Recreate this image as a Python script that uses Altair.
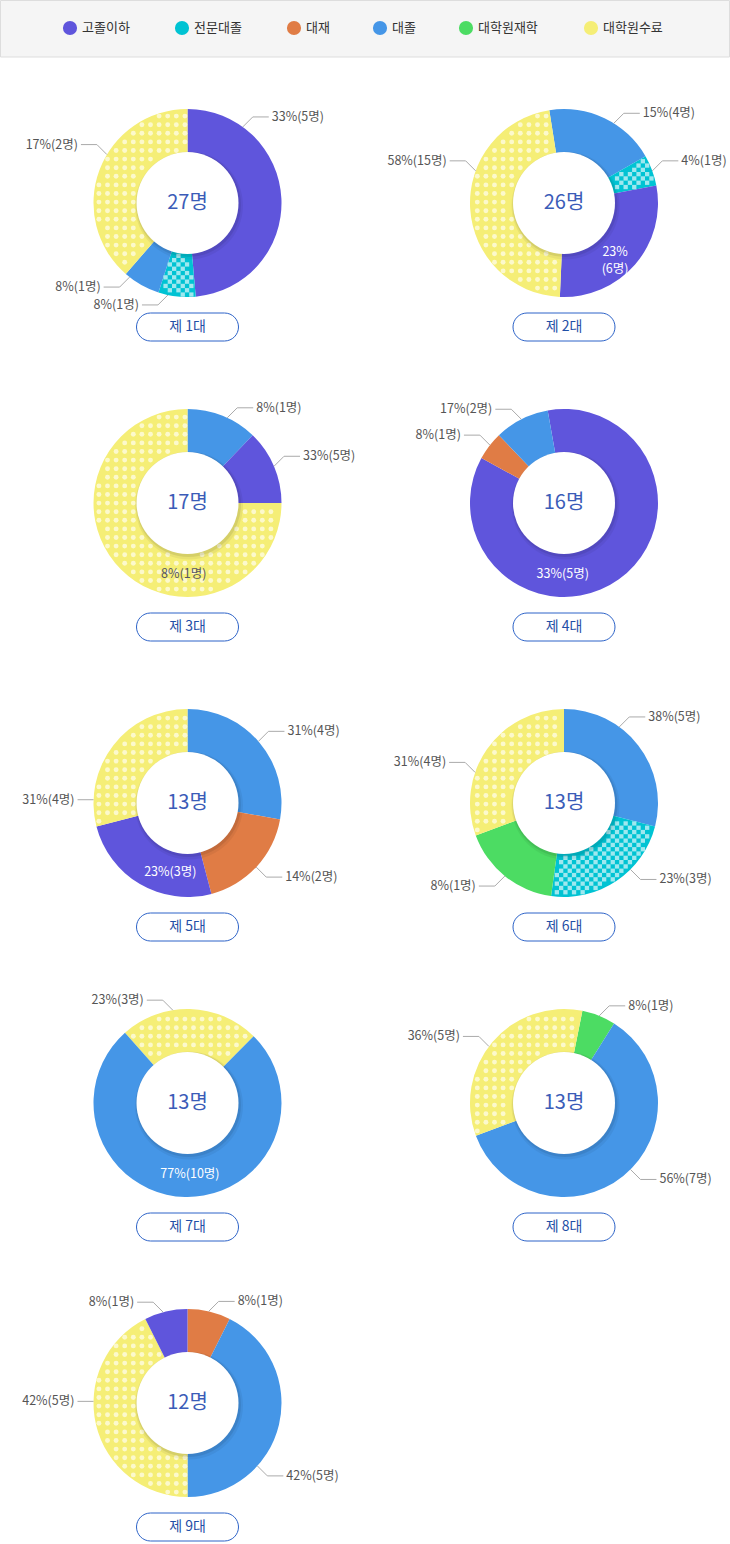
import math
import altair as alt
import pandas as pd

# ---------------- data ----------------
categories = ["고졸이하", "전문대졸", "대재", "대졸", "대학원재학", "대학원수료"]
cat_colors = ["#5f55dc", "#00c3d3", "#e07c45", "#4596e7", "#4cdc63", "#f5ee76"]

terms = ["제 1대", "제 2대", "제 3대", "제 4대", "제 5대", "제 6대", "제 7대", "제 8대", "제 9대"]
totals = ["27명", "26명", "17명", "16명", "13명", "13명", "13명", "13명", "12명"]

# rotation of the first slice (degrees, clockwise from 12 o'clock)
start_deg = [0, -9, 0, -10, 0, 0, -41.7, 11.3, 0]

# slices clockwise: category index and share of the ring (%)
slice_cat = [
    [0, 1, 3, 5],
    [3, 1, 0, 5],
    [3, 0, 5],
    [0, 2, 3],
    [3, 2, 0, 5],
    [3, 1, 4, 5],
    [5, 3],
    [4, 3, 5],
    [2, 3, 5, 0],
]
slice_share = [
    [48.6, 6.4, 6.4, 38.6],
    [19.2, 5.3, 28.7, 46.8],
    [12.2, 12.8, 75.0],
    [85.7, 4.9, 9.4],
    [27.8, 18.1, 25.1, 29.0],
    [29.0, 23.2, 17.2, 30.6],
    [24.0, 76.0],
    [5.8, 60.4, 33.8],
    [7.4, 42.6, 42.6, 7.4],
]
slice_label = [
    ["33%(5명)", "8%(1명)", "8%(1명)", "17%(2명)"],
    ["15%(4명)", "4%(1명)", "23%\n(6명)", "58%(15명)"],
    ["8%(1명)", "33%(5명)", "8%(1명)"],
    ["33%(5명)", "8%(1명)", "17%(2명)"],
    ["31%(4명)", "14%(2명)", "23%(3명)", "31%(4명)"],
    ["38%(5명)", "23%(3명)", "8%(1명)", "31%(4명)"],
    ["23%(3명)", "77%(10명)"],
    ["8%(1명)", "56%(7명)", "36%(5명)"],
    ["8%(1명)", "42%(5명)", "42%(5명)", "8%(1명)"],
]
# direction of each label (degrees, clockwise from 12 o'clock)
label_deg = [
    [36, 192, 218, 301],
    [32, 70, 134, 290],
    [25, 67, 183],
    [181, 308, 333],
    [49, 133, 194, 272],
    [36, 135, 219, 289],
    [351, 178],
    [22, 135, 307],
    [13, 132, 271, 345],
]
# 1 = label drawn inside the ring
label_inside = [
    [0, 0, 0, 0],
    [0, 0, 1, 0],
    [0, 0, 1],
    [1, 0, 0],
    [0, 0, 1, 0],
    [0, 0, 0, 0],
    [0, 1],
    [0, 0, 0],
    [0, 0, 0, 0],
]

# ---------------- layout / styling ----------------
W, H = 730, 1544
FONT = "Noto Sans CJK KR"
COL_X = [187.5, 564]
ROW0, ROW_STEP = 203, 300
R_OUT, R_IN, R_LAB = 94, 51, 71
BTN_DY, BTN_W, BTN_H = 124, 102, 28
LEG_H, LEG_Y = 57, 28
DOT_STEP, CHECK_STEP = 8.6, 4.3

xs = alt.Scale(domain=[0, W], range=[0, W])
ys = alt.Scale(domain=[0, H], range=[0, H])
th = alt.Scale(domain=[0, 360], range=[0, 2 * math.pi])


def X(f):
    return alt.X(f, type="quantitative", scale=xs, axis=None)


def Y(f):
    return alt.Y(f, type="quantitative", scale=ys, axis=None)


def in_slice(px, py, cx, cy, a0, span, margin):
    dx, dy = px - cx, py - cy
    r = math.hypot(dx, dy)
    if r < R_IN + margin or r > R_OUT - margin:
        return False
    m = math.degrees(margin / r)
    ang = math.degrees(math.atan2(dx, -dy)) % 360
    rel = (ang - a0) % 360
    return m <= rel <= span - m


arc_rows, disc_rows, center_rows, btn_rows = [], [], [], []
rule_rows, out_rows, in_rows = [], [], []
dot_rows, check_rows = [], []
for i in range(9):
    cx = COL_X[i % 2]
    cy = ROW0 + ROW_STEP * (i // 2)
    a = start_deg[i]
    for c, s, txt, ld, ins in zip(slice_cat[i], slice_share[i], slice_label[i],
                                  label_deg[i], label_inside[i]):
        span = s * 3.6
        arc_rows.append(dict(cx=cx, cy=cy, a0=a, a1=a + span, cat=categories[c]))
        # surface texture of the slice (dots / checker), as in the reference
        if c in (5, 1):
            step = DOT_STEP if c == 5 else CHECK_STEP
            margin = 2.4 if c == 5 else 2.0
            gx0 = math.floor((cx - R_OUT) / step)
            gx1 = math.ceil((cx + R_OUT) / step)
            gy0 = math.floor((cy - R_OUT) / step)
            gy1 = math.ceil((cy + R_OUT) / step)
            for gx in range(gx0, gx1 + 1):
                for gy in range(gy0, gy1 + 1):
                    if c == 1 and (gx + gy) % 2:
                        continue
                    px, py = gx * step + step / 2, gy * step + step / 2
                    if in_slice(px, py, cx, cy, a % 360, span, margin):
                        (dot_rows if c == 5 else check_rows).append(dict(x=px, y=py))
        a += span
        r = math.radians(ld)
        sn, cs = math.sin(r), math.cos(r)
        if ins:
            in_rows.append(dict(x=cx + R_LAB * sn, y=cy - R_LAB * cs, t=txt,
                                tc="#555566" if c == 5 else "#ffffff"))
        else:
            ax, ay = cx + R_OUT * sn, cy - R_OUT * cs
            sx = 1 if sn > 0 else -1
            if abs(cs) < 0.2:
                ex, ey = ax, ay
            else:
                ex, ey = ax + 10 * sx, ay + (-10 if cs > 0 else 10)
                rule_rows.append(dict(x=ax, y=ay, x2=ex, y2=ey))
            hx = ex + 16 * sx
            rule_rows.append(dict(x=ex, y=ey, x2=hx, y2=ey))
            out_rows.append(dict(x=hx + 3 * sx, y=ey, t=txt, side="R" if sx > 0 else "L"))
    disc_rows.append(dict(cx=cx, cy=cy, a0=0, a1=360))
    center_rows.append(dict(x=cx, y=cy, t=totals[i]))
    btn_rows.append(dict(x=cx - BTN_W / 2, x2=cx + BTN_W / 2,
                         y=cy + BTN_DY - BTN_H / 2, y2=cy + BTN_DY + BTN_H / 2,
                         xc=cx, yc=cy + BTN_DY, t=terms[i]))

arcs = pd.DataFrame(arc_rows)
discs = pd.DataFrame(disc_rows)
shadow1 = discs.assign(cx=discs.cx + 1.5, cy=discs.cy + 2.5)
shadow2 = discs.assign(cx=discs.cx + 1, cy=discs.cy + 1.5)
centers = pd.DataFrame(center_rows)
btns = pd.DataFrame(btn_rows)
rules = pd.DataFrame(rule_rows)
outs = pd.DataFrame(out_rows)
ins_df = pd.DataFrame(in_rows)
dots = pd.DataFrame(dot_rows)
checks = pd.DataFrame(check_rows)

# legend positions computed from text length
leg_rows = []
txt_w = [13 * len(c) for c in categories]
item_w = [20 + w for w in txt_w]
gap = 40
total_w = sum(item_w) + gap * (len(categories) - 1)
pos = W / 2 - total_w / 2
for c, iw in zip(categories, item_w):
    leg_rows.append(dict(mx=pos + 8, tx=pos + 20, y=LEG_Y, cat=c))
    pos += iw + gap
legend = pd.DataFrame(leg_rows)
legbox = pd.DataFrame([dict(x=0.5, x2=W - 0.5, y=0.5, y2=LEG_H)])

color = alt.Color("cat:N", scale=alt.Scale(domain=categories, range=cat_colors), legend=None)


def disc_layer(df, radius, fill, opacity):
    return alt.Chart(df).mark_arc(outerRadius=radius, innerRadius=0, fill=fill,
                                  opacity=opacity).encode(
        x=X("cx"), y=Y("cy"),
        theta=alt.Theta("a0:Q", scale=th, stack=None), theta2="a1:Q")


layers = [
    alt.Chart(legbox).mark_rect(fill="#f5f5f5", stroke="#dddddd", strokeWidth=1).encode(
        x=X("x"), x2="x2", y=Y("y"), y2="y2"),
    alt.Chart(legend).mark_point(filled=True, shape="circle", size=200, opacity=1).encode(
        x=X("mx"), y=Y("y"), color=color),
    alt.Chart(legend).mark_text(align="left", baseline="middle", font=FONT, fontSize=13,
                                color="#333333").encode(x=X("tx"), y=Y("y"), text="cat:N"),
    alt.Chart(arcs).mark_arc(outerRadius=R_OUT, innerRadius=40).encode(
        x=X("cx"), y=Y("cy"),
        theta=alt.Theta("a0:Q", scale=th, stack=None), theta2="a1:Q", color=color),
    alt.Chart(dots).mark_point(filled=True, shape="circle", size=24, opacity=1,
                               color="#fcf9cc").encode(x=X("x"), y=Y("y")),
    alt.Chart(checks).mark_point(filled=True, shape="square", size=18.5, opacity=1,
                                 color="#9fe8ef").encode(x=X("x"), y=Y("y")),
    disc_layer(shadow1, R_IN + 3, "#000000", 0.05),
    disc_layer(shadow2, R_IN + 1.5, "#000000", 0.08),
    disc_layer(discs, R_IN, "#ffffff", 1),
    alt.Chart(centers).mark_text(align="center", baseline="middle", font=FONT, fontSize=20,
                                 color="#3b5cb8").encode(x=X("x"), y=Y("y"), text="t:N"),
    alt.Chart(btns).mark_rect(cornerRadius=14, fill="#ffffff", stroke="#2d63c8",
                              strokeWidth=1).encode(x=X("x"), x2="x2", y=Y("y"), y2="y2"),
    alt.Chart(btns).mark_text(align="center", baseline="middle", font=FONT, fontSize=14,
                              color="#1f4fa6").encode(x=X("xc"), y=Y("yc"), text="t:N"),
    alt.Chart(rules).mark_rule(color="#aaaaaa", strokeWidth=1).encode(
        x=X("x"), y=Y("y"), x2="x2", y2="y2"),
    alt.Chart(outs).transform_filter(alt.datum.side == "R").mark_text(
        align="left", baseline="middle", font=FONT, fontSize=12.5, color="#555555").encode(
        x=X("x"), y=Y("y"), text="t:N"),
    alt.Chart(outs).transform_filter(alt.datum.side == "L").mark_text(
        align="right", baseline="middle", font=FONT, fontSize=12.5, color="#555555").encode(
        x=X("x"), y=Y("y"), text="t:N"),
    alt.Chart(ins_df).mark_text(align="center", baseline="middle", font=FONT, fontSize=12.5,
                                lineBreak="\n", lineHeight=17).encode(
        x=X("x"), y=Y("y"), text="t:N", color=alt.Color("tc:N", scale=None)),
]

chart = alt.layer(*layers).properties(
    width=W, height=H, padding=0, background="#ffffff",
    autosize=alt.AutoSizeParams(type="none"),
).configure_view(stroke=None)

chart.save("out.html", embed_options={"renderer": "svg", "actions": False})
